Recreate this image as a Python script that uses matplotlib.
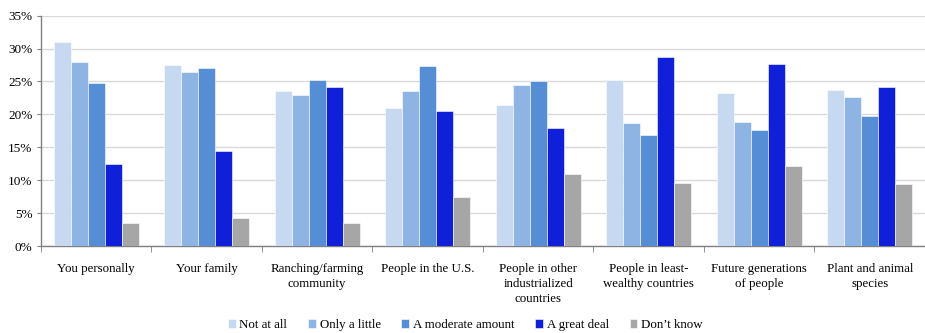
import matplotlib
matplotlib.use("Agg")
import matplotlib.pyplot as plt
import numpy as np
from matplotlib.ticker import FuncFormatter

categories = ["You personally", "Your family", "Ranching/farming\ncommunity",
              "People in the U.S.", "People in other\nindustrialized\ncountries",
              "People in least-\nwealthy countries", "Future generations\nof people",
              "Plant and animal\nspecies"]
series_names = ["Not at all", "Only a little", "A moderate amount", "A great deal", "Don\u2019t know"]
not_at_all = [31.0, 27.5, 23.5, 20.9, 21.4, 25.3, 23.2, 23.7]
only_little = [28.0, 26.4, 23.0, 23.6, 24.5, 18.7, 18.8, 22.6]
moderate = [24.7, 27.0, 25.3, 27.3, 25.0, 16.9, 17.7, 19.7]
great_deal = [12.5, 14.4, 24.2, 20.5, 18.0, 28.7, 27.7, 24.2]
dont_know = [3.5, 4.2, 3.5, 7.5, 10.9, 9.6, 12.1, 9.4]
colors = ["#C6D9F1", "#8EB4E3", "#558ED5", "#1020D8", "#A6A6A6"]

plt.rcParams['font.family'] = ['Liberation Serif', 'DejaVu Serif']
fig = plt.figure(figsize=(9.25, 3.33), dpi=100)
ax = fig.add_axes([0.0443, 0.261, 0.9557, 0.692])

data = [not_at_all, only_little, moderate, great_deal, dont_know]
x = np.arange(len(categories))
w = 0.154
for i, (vals, name, c) in enumerate(zip(data, series_names, colors)):
    ax.bar(x + (i - 2) * w, vals, w, color=c, label=name, edgecolor='white', linewidth=0.4, zorder=3)

ax.set_xlim(-0.5, len(categories) - 0.5)
ax.set_ylim(0, 35)
ax.set_yticks(np.arange(0, 36, 5))
ax.yaxis.set_major_formatter(FuncFormatter(lambda v, p: f"{int(v)}%"))
ax.yaxis.grid(True, color="#D9D9D9", linewidth=1, zorder=0)
ax.set_axisbelow(True)
ax.set_xticks(x)
ax.set_xticklabels(categories, fontsize=9.3, linespacing=1.35)
ax.set_xticks(np.arange(-0.5, len(categories) + 0.5, 1), minor=True)
ax.tick_params(axis='x', which='major', length=0, pad=12)
ax.tick_params(axis='x', which='minor', length=4, color='#808080', direction='out')
ax.tick_params(axis='y', length=3, color='#808080', labelsize=9.5, pad=3)
for s in ['top', 'right']:
    ax.spines[s].set_visible(False)
for s in ['left', 'bottom']:
    ax.spines[s].set_color('#808080')
    ax.spines[s].set_linewidth(1)

fig.legend(loc='center', bbox_to_anchor=(0.503, 0.024), ncol=5, frameon=False,
           fontsize=9.3, handlelength=0.6, handleheight=0.6, handletextpad=0.3,
           columnspacing=1.6, borderaxespad=0)

fig.savefig("out.png", dpi=100)
